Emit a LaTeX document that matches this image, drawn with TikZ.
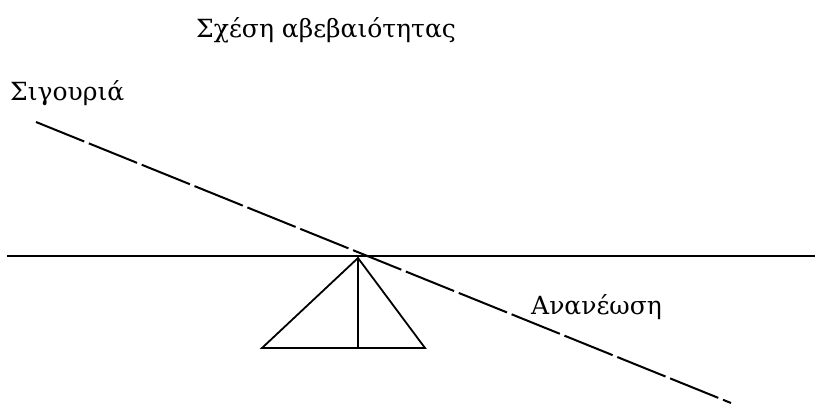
\documentclass[tikz,border=0pt]{standalone}
\usepackage{fontspec}
\setmainfont{DejaVu Serif}
\usetikzlibrary{positioning}

\begin{document}
\begin{tikzpicture}[x=1pt,y=-1pt,
    greek/.style={inner sep=0pt,anchor=base west,font=\fontsize{25}{30}\selectfont}]
    \useasboundingbox (0,0) rectangle (815,404);

    % Title
    \node[greek] (title) at (196,38) {Σχέση αβεβαιότητας};

    % Beam and fulcrum
    \coordinate (beamL) at (7,256);
    \coordinate (beamR) at (815,256);
    \draw[line width=2pt] (beamL) -- (beamR);

    \coordinate (apex) at (358,258);
    \coordinate (baseL) at (262,348);
    \coordinate (baseR) at (425,348);
    \coordinate (baseM) at (358,348);
    \draw[line width=1.8pt] (baseL) -- (apex) -- (baseR) -- cycle;
    \draw[line width=1.8pt] (apex) -- (baseM);

    % Tilted dashed line
    \coordinate (tiltL) at (36,122);
    \coordinate (tiltR) at (731,403);
    \draw[line width=2pt,dash pattern=on 52pt off 5pt] (tiltL) -- (tiltR);

    % End labels
    \node[greek] (sure) at (10,100) {Σιγουριά};
    \node[greek] (renew) at (531,314) {Ανανέωση};
\end{tikzpicture}
\end{document}
